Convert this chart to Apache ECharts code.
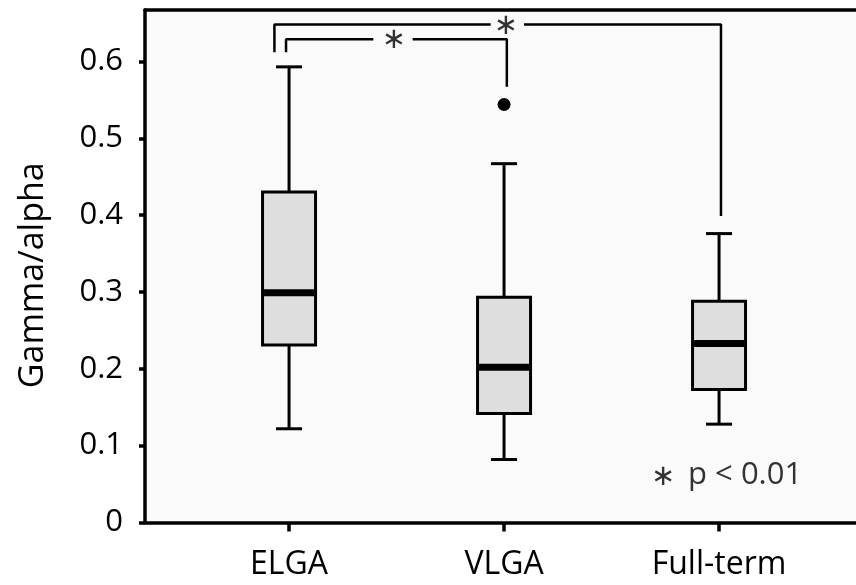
<!DOCTYPE html>
<html><head><meta charset="utf-8">
<script src="https://cdn.jsdelivr.net/npm/echarts@6/dist/echarts.min.js"></script>
<style>html,body{margin:0;padding:0;background:#fff}#c{width:856px;height:585px}</style>
</head><body><div id="c"></div>
<script>
// ---- data ----
const categories = ['ELGA', 'VLGA', 'Full-term'];
const lowWhisker  = [0.122, 0.082, 0.128];
const q1          = [0.231, 0.142, 0.173];
const median      = [0.299, 0.202, 0.233];
const q3          = [0.430, 0.293, 0.288];
const highWhisker = [0.593, 0.467, 0.376];
const outliers = [[1, 0.544]];
const yTicks = [0, 0.1, 0.2, 0.3, 0.4, 0.5, 0.6];
const xTicks = [0, 1, 2];
// significance brackets (category index, value)
const bracketSegments = [
  [[-0.068, 0.612], [-0.068, 0.648], [0.938, 0.648]],
  [[1.093, 0.648], [2.009, 0.648], [2.009, 0.399]],
  [[-0.014, 0.612], [-0.014, 0.629], [0.392, 0.629]],
  [[0.575, 0.629], [1.013, 0.629], [1.013, 0.567]]
];
const starMarks = [[1.009, 0.646], [0.488, 0.627], [1.74, 0.059]];
const noteLabel = [[1.856, 0.062]];
const noteText = 'p < 0.01';

const FONT = "'Open Sans', sans-serif";
const INK = '#000';

const boxData = categories.map((c, i) => [i, lowWhisker[i], q1[i], median[i], q3[i], highWhisker[i]]);

function renderBox(params, api) {
  const x = api.value(0);
  const lo = api.coord([x, api.value(1)]);
  const a = api.coord([x, api.value(2)]);
  const m = api.coord([x, api.value(3)]);
  const b = api.coord([x, api.value(4)]);
  const hi = api.coord([x, api.value(5)]);
  const bw = api.size([0.2465, 0])[0];
  const cw = api.size([0.121, 0])[0];
  const cx = lo[0];
  const st = { stroke: INK, lineWidth: 3, fill: null };
  return {
    type: 'group',
    children: [
      { type: 'line', shape: { x1: cx, y1: b[1], x2: cx, y2: hi[1] }, style: st },
      { type: 'line', shape: { x1: cx - cw / 2, y1: hi[1], x2: cx + cw / 2, y2: hi[1] }, style: st },
      { type: 'line', shape: { x1: cx, y1: a[1], x2: cx, y2: lo[1] }, style: st },
      { type: 'line', shape: { x1: cx - cw / 2, y1: lo[1], x2: cx + cw / 2, y2: lo[1] }, style: st },
      { type: 'rect', shape: { x: cx - bw / 2, y: b[1], width: bw, height: a[1] - b[1] },
        style: { fill: '#dedede', stroke: INK, lineWidth: 3 } },
      { type: 'line', shape: { x1: cx - bw / 2 + 1.5, y1: m[1], x2: cx + bw / 2 - 1.5, y2: m[1] },
        style: { stroke: INK, lineWidth: 7, fill: null } }
    ]
  };
}

const series = [];
series.push({
  type: 'custom', renderItem: renderBox, data: boxData,
  encode: { x: 0, y: [1, 2, 3, 4, 5] }, silent: true, z: 3
});
series.push({
  type: 'scatter', data: outliers, symbol: 'circle', symbolSize: 13,
  itemStyle: { color: INK, opacity: 1 }, silent: true, z: 4
});
bracketSegments.forEach(seg => series.push({
  type: 'line', data: seg, symbol: 'none', silent: true, z: 2,
  lineStyle: { color: INK, width: 2.5 }
}));
series.push({
  type: 'scatter', data: starMarks, symbolSize: 1, itemStyle: { color: 'rgba(0,0,0,0)' }, silent: true, z: 5,
  label: { show: true, position: 'inside', formatter: '\u2217', color: INK,
           fontFamily: "'DejaVu Sans', sans-serif", fontSize: 29, align: 'center', verticalAlign: 'middle' }
});
series.push({
  type: 'scatter', data: noteLabel, symbolSize: 1, itemStyle: { color: 'rgba(0,0,0,0)' }, silent: true, z: 5,
  label: { show: true, position: 'inside', formatter: noteText, color: INK,
           fontFamily: FONT, fontSize: 31, align: 'left', verticalAlign: 'middle' }
});

const chart = echarts.init(document.getElementById('c'), null, { renderer: 'canvas' });
chart.setOption({
  animation: false,
  backgroundColor: '#ffffff',
  grid: { left: 145, right: 0, top: 10, bottom: 62.5, show: true, backgroundColor: '#fafafa', borderWidth: 0, containLabel: false },
  xAxis: [{
    type: 'value', min: -0.67, max: 2.637,
    axisLine: { show: true, onZero: false, lineStyle: { color: INK, width: 3.5 } },
    axisTick: { show: true, customValues: xTicks, length: 9, lineStyle: { color: INK, width: 3.5 } },
    axisLabel: { show: true, customValues: xTicks, formatter: v => categories[v] || '', color: INK,
                 fontFamily: FONT, fontSize: 32, margin: 26 },
    splitLine: { show: false }
  }, {
    type: 'value', position: 'top', min: -0.67, max: 2.637,
    axisLine: { show: true, onZero: false, lineStyle: { color: INK, width: 3.5 } },
    axisTick: { show: false }, axisLabel: { show: false }, splitLine: { show: false }
  }],
  yAxis: {
    type: 'value', min: 0, max: 0.667,
    name: 'Gamma/alpha', nameLocation: 'middle', nameGap: 95, nameRotate: 90,
    nameTextStyle: { color: INK, fontFamily: FONT, fontSize: 34, padding: [0, 18, 0, 0] },
    axisLine: { show: true, onZero: false, lineStyle: { color: INK, width: 3.5 } },
    axisTick: { show: true, customValues: yTicks, length: 6, lineStyle: { color: INK, width: 3.5 } },
    axisLabel: { show: true, customValues: yTicks, formatter: v => String(v), color: INK,
                 fontFamily: FONT, fontSize: 31, margin: 22 },
    splitLine: { show: false }
  },
  series: series
});
</script>
</body></html>
